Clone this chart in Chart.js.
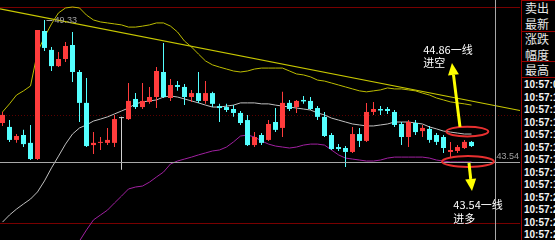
<!DOCTYPE html>
<html lang="zh-CN">
<head>
<meta charset="utf-8">
<title>K线</title>
<script src="https://cdn.jsdelivr.net/npm/chart.js@4/dist/chart.umd.min.js"></script>
<style>
  html, body { margin: 0; padding: 0; background: #000; overflow: hidden; }
  #wrap { position: relative; width: 555px; height: 240px; }
  #kline { position: absolute; left: 0; top: 0; }
  #panel { position: absolute; left: 521px; top: 0; width: 34px; height: 240px;
           border-left: 1px solid #9a0000; overflow: hidden; color: #e8e8e8; }
  .row { position: absolute; left: 3px; white-space: nowrap; }
  .name { font: 12px/12px "Noto Sans CJK SC", sans-serif; }
  .time { left: 2px; font: bold 10px/10px "Liberation Sans", sans-serif; color: #f4f4f4; }
  .sep { position: absolute; left: 0; width: 34px; height: 1px; background: #9a0000; }
</style>
</head>
<body>
<div id="wrap">
  <canvas id="kline" width="520" height="240"></canvas>
  <div id="panel"></div>
</div>
<script>
// bar prices
const opens = [45.13,44.97,44.44,44.64,44.32,43.66,48.88,48.11,47.45,47.74,
  48.31,47.21,45.95,44.23,44.32,44.32,44.32,45.33,45.29,46.11,
  45.78,45.99,46.19,47.21,46.15,46.68,46.60,46.19,46.35,46.03,
  46.35,45.82,45.78,45.70,45.54,45.25,44.23,44.64,44.44,45.17,
  44.93,45.95,45.78,46.07,46.03,45.74,45.38,44.64,44.15,44.11,
  43.95,44.68,44.40,45.58,45.70,45.70,45.58,45.09,44.56,45.13,
  44.80,44.89,44.64,44.56,43.95,43.99,44.11,44.36];
const highs = [45.58,45.25,44.68,44.85,45.05,48.92,49.33,48.23,48.02,48.43,
  48.84,47.29,46.96,44.76,44.56,44.93,45.46,45.38,46.76,46.35,
  46.76,46.60,47.41,48.39,46.92,46.84,46.72,46.48,47.21,46.84,
  46.40,45.91,45.91,45.86,45.62,45.46,44.76,44.72,45.25,45.74,
  46.40,46.07,46.07,46.23,46.19,45.82,45.58,44.72,44.27,44.19,
  44.97,44.93,45.95,45.99,45.82,45.78,45.66,45.17,45.25,45.25,
  45.05,45.01,44.72,44.64,44.36,44.23,44.44,44.40];
const lows = [45.01,44.36,44.32,44.15,43.62,43.62,48.07,47.25,47.41,47.62,
  46.80,45.17,44.15,43.87,44.03,44.23,44.15,43.22,45.25,45.70,
  45.70,45.91,45.74,46.15,46.03,46.44,45.86,45.99,45.95,45.91,
  45.78,45.17,45.58,45.38,45.05,44.19,44.15,44.23,44.40,44.76,
  44.56,45.62,45.54,45.91,45.66,45.25,44.56,44.03,43.99,43.34,
  43.91,44.15,44.36,45.46,45.46,45.50,44.97,44.23,44.15,44.64,
  44.56,44.32,44.23,43.91,43.74,43.91,44.07,44.15];
const closes = [45.46,44.44,44.60,44.27,43.66,48.92,48.19,47.45,47.74,48.27,
  47.21,45.95,44.19,44.32,44.36,44.44,45.29,45.33,46.03,45.78,
  46.03,46.19,47.25,46.19,46.68,46.60,46.19,46.35,46.03,46.35,
  45.91,45.74,45.66,45.54,45.13,44.23,44.56,44.32,45.09,44.85,
  45.95,45.70,46.03,46.01,45.70,45.38,44.60,44.07,44.07,43.95,
  44.68,44.40,45.58,45.70,45.64,45.62,45.05,44.56,45.17,44.76,
  44.93,44.44,44.36,44.11,44.03,44.15,44.36,44.19];

// moving averages
const maYellow = [45.58,45.91,46.27,46.44,46.64,48.02,48.64,49.17,49.62,49.82,
  49.86,49.82,49.53,49.33,49.25,49.21,49.17,49.13,49.04,49.04,
  49.08,49.13,49.21,49.21,49.08,48.84,48.47,48.23,47.94,47.66,
  47.50,47.41,47.33,47.25,47.21,47.25,47.33,47.37,47.37,47.37,
  47.37,47.25,47.13,47.09,47.01,46.88,46.84,46.76,46.68,46.60,
  46.52,46.44,46.40,46.44,46.48,46.56,46.52,46.52,46.48,46.44,
  46.35,46.27,46.15,46.07,45.99,45.95,45.91,45.86];
const maWhite = [41.09,41.38,41.62,41.83,42.03,42.32,42.77,43.30,43.78,44.27,
  44.68,44.93,45.05,45.21,45.29,45.38,45.50,45.62,45.74,45.91,
  45.99,46.03,46.07,46.19,46.23,46.19,46.11,46.03,45.95,45.86,
  45.78,45.78,45.82,45.86,45.95,45.95,45.95,45.91,45.91,45.86,
  45.82,45.78,45.74,45.70,45.66,45.54,45.46,45.33,45.25,45.17,
  45.09,45.05,45.01,45.01,45.05,45.09,45.17,45.17,45.17,45.13,
  45.09,44.97,44.89,44.80,44.76,44.72,44.68,44.68];
const maPurple = [null,null,null,null,null,null,null,null,null,null,
  null,40.32,40.77,41.18,41.38,41.58,41.87,42.15,42.44,42.52,
  42.56,42.72,42.93,43.13,43.46,43.58,43.66,43.74,43.83,43.91,
  43.99,44.03,44.15,44.36,44.60,44.64,44.56,44.40,44.27,44.19,
  44.15,44.11,44.15,44.23,44.27,44.27,44.23,44.03,43.83,43.70,
  43.66,43.62,43.58,43.58,43.62,43.70,43.74,43.74,43.74,43.74,
  43.74,43.70,43.62,43.58,43.54,43.54,43.54,43.54];

// hand-drawn trend line (bar index, price)
const trendIdx = [-0.36, 73.93];
const trendPrice = [49.78, 45.64];

const frameLevels = [49.86, 45.46, 41.05];
const crossIdx = 70.36;
const crossPrice = 43.54;
const highIdx = 6;

const panelNames = ['卖出', '最新', '涨跌', '幅度', '最高'];
const panelTimes = ['10:57:0', '10:57:1', '10:57:1', '10:57:1', '10:57:1', '10:57:1', '10:57:1',
  '10:57:1', '10:57:1', '10:57:2', '10:57:2', '10:57:2', '10:57:2'];

// annotations
const notes = [
  { lines: ['44.86一线', '进空'], idx: 60.1, price: [48.11, 47.58] },
  { lines: ['43.54一线', '进多'], idx: 64.4, price: [41.79, 41.22] }
];
const rings = [
  { idx: 66.4, price: 44.78, rx: 3.0, ry: 0.2 },
  { idx: 66.5, price: 43.56, rx: 3.7, ry: 0.22 }
];
const arrows = [
  { from: [65.36, 44.97], to: [64.21, 47.58] },
  { from: [66.64, 43.50], to: [67.07, 42.36] }
];

const UP = '#ff3c3c', DOWN = '#54ffff', FLAT = '#d0d0d0';
const X_MIN = -2.5 / 7;
const X_MAX = X_MIN + 520 / 7;

const bars = opens.map((_, i) => i);
const colors = bars.map(i => closes[i] > opens[i] ? UP : (closes[i] < opens[i] ? DOWN : FLAT));

function drawArrow(ctx, x0, y0, x1, y1) {
  const a = Math.atan2(y1 - y0, x1 - x0);
  const head = 12, half = 5.5;
  const bx = x1 - head * Math.cos(a), by = y1 - head * Math.sin(a);
  ctx.lineWidth = 3;
  ctx.beginPath(); ctx.moveTo(x0, y0); ctx.lineTo(bx, by); ctx.stroke();
  ctx.beginPath();
  ctx.moveTo(x1, y1);
  ctx.lineTo(bx + half * Math.sin(a), by - half * Math.cos(a));
  ctx.lineTo(bx - half * Math.sin(a), by + half * Math.cos(a));
  ctx.closePath();
  ctx.fill();
}

const overlay = {
  id: 'overlay',
  beforeDatasetsDraw(chart) {
    const { ctx, chartArea: a, scales: { y } } = chart;
    ctx.save();
    ctx.lineWidth = 1;
    frameLevels.forEach((p, k) => {
      const py = Math.round(y.getPixelForValue(p)) + 0.5;
      ctx.strokeStyle = k === 1 ? '#5a0000' : '#780000';
      ctx.setLineDash(k === 1 ? [1, 2] : []);
      ctx.beginPath(); ctx.moveTo(a.left, py); ctx.lineTo(a.right, py); ctx.stroke();
    });
    ctx.restore();
  },
  afterDatasetsDraw(chart) {
    const { ctx, chartArea: a, scales: { x, y } } = chart;
    ctx.save();

    // cross cursor
    const cx = Math.round(x.getPixelForValue(crossIdx)) + 0.5;
    const cy = Math.round(y.getPixelForValue(crossPrice)) + 0.5;
    ctx.strokeStyle = '#a8a8a8';
    ctx.lineWidth = 1;
    ctx.beginPath();
    ctx.moveTo(a.left, cy); ctx.lineTo(a.right, cy);
    ctx.moveTo(cx, a.top); ctx.lineTo(cx, a.bottom);
    ctx.stroke();
    ctx.font = '9px "Liberation Sans", sans-serif';
    ctx.fillStyle = '#a0a0a0';
    ctx.textAlign = 'right';
    ctx.textBaseline = 'bottom';
    ctx.fillText(crossPrice.toFixed(2), a.right - 1, cy - 1);

    // highest price mark
    const hx = x.getPixelForValue(highIdx), hy = Math.round(y.getPixelForValue(highs[highIdx])) + 0.5;
    ctx.beginPath(); ctx.moveTo(hx + 2, hy); ctx.lineTo(hx + 8, hy); ctx.stroke();
    ctx.textAlign = 'left';
    ctx.textBaseline = 'middle';
    ctx.fillText(highs[highIdx].toFixed(2), hx + 10, hy);

    // rings
    ctx.strokeStyle = '#e83030';
    ctx.lineWidth = 2;
    rings.forEach(r => {
      const px = x.getPixelForValue(r.idx), py = y.getPixelForValue(r.price);
      const rx = x.getPixelForValue(r.idx + r.rx) - px;
      const ry = py - y.getPixelForValue(r.price + r.ry);
      ctx.beginPath(); ctx.ellipse(px, py, rx, ry, 0, 0, Math.PI * 2); ctx.stroke();
    });

    // arrows
    ctx.strokeStyle = '#ffff00';
    ctx.fillStyle = '#ffff00';
    arrows.forEach(ar => {
      drawArrow(ctx,
        x.getPixelForValue(ar.from[0]), y.getPixelForValue(ar.from[1]),
        x.getPixelForValue(ar.to[0]), y.getPixelForValue(ar.to[1]));
    });

    // notes
    ctx.font = '11px "Noto Sans CJK SC", sans-serif';
    ctx.fillStyle = '#ffffff';
    ctx.textAlign = 'left';
    ctx.textBaseline = 'middle';
    notes.forEach(n => {
      n.lines.forEach((t, k) => ctx.fillText(t, x.getPixelForValue(n.idx), y.getPixelForValue(n.price[k])));
    });
    ctx.restore();
  }
};

const lineSet = (data, color, order) => ({
  type: 'line',
  data: data.map((v, i) => ({ x: i, y: v })),
  borderColor: color,
  borderWidth: 1,
  pointRadius: 0,
  tension: 0,
  spanGaps: false,
  order: order
});

new Chart(document.getElementById('kline').getContext('2d'), {
  type: 'bar',
  data: {
    datasets: [
      {
        label: 'body',
        data: bars.map(i => ({ x: i, y: [opens[i], closes[i]] })),
        backgroundColor: colors,
        barThickness: 5,
        minBarLength: 1,
        grouped: false,
        inflateAmount: 0,
        borderWidth: 0,
        order: 0
      },
      {
        label: 'wick',
        data: bars.map(i => ({ x: i, y: [lows[i], highs[i]] })),
        backgroundColor: colors,
        barThickness: 1,
        grouped: false,
        inflateAmount: 0,
        borderWidth: 0,
        order: 1
      },
      lineSet(maWhite, '#c0c0c0', 2),
      lineSet(maPurple, '#a020a0', 3),
      lineSet(maYellow, '#bcbc00', 4),
      {
        type: 'line',
        label: 'trend',
        data: trendIdx.map((v, i) => ({ x: v, y: trendPrice[i] })),
        borderColor: '#c8c800',
        borderWidth: 1.2,
        pointRadius: 0,
        order: 5
      }
    ]
  },
  options: {
    responsive: false,
    devicePixelRatio: 1,
    animation: false,
    events: [],
    layout: { padding: 0 },
    plugins: { legend: { display: false }, tooltip: { enabled: false } },
    scales: {
      x: { type: 'linear', display: false, offset: false, min: X_MIN, max: X_MAX },
      y: { type: 'linear', display: false, beginAtZero: false, min: 40.36, max: 50.145 }
    }
  },
  plugins: [overlay]
});

// right-hand quote panel
const panel = document.getElementById('panel');
function addRow(cls, text, centre, size) {
  const d = document.createElement('div');
  d.className = 'row ' + cls;
  d.textContent = text;
  d.style.top = (centre - size / 2) + 'px';
  panel.appendChild(d);
}
function addSep(top) {
  const d = document.createElement('div');
  d.className = 'sep';
  d.style.top = top + 'px';
  panel.appendChild(d);
}
addSep(0); addSep(31); addSep(61); addSep(77);
panelNames.forEach((t, k) => addRow('name', t, 8 + k * 15.5, 12));
panelTimes.forEach((t, k) => addRow('time', t, 85 + k * 12.5, 10));
</script>
</body>
</html>
